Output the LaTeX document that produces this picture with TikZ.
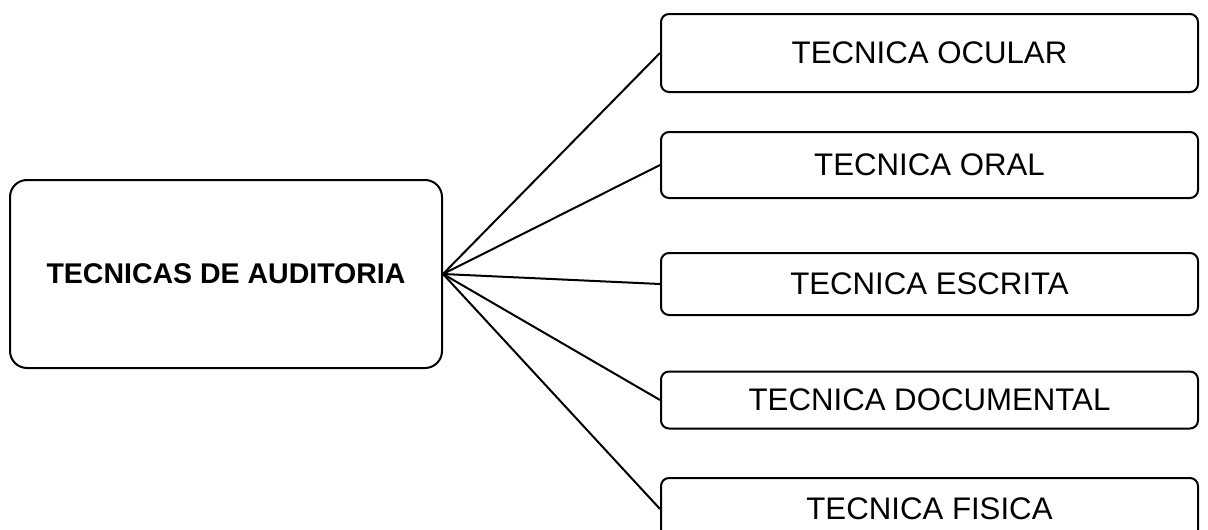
\documentclass[tikz,border=0pt]{standalone}
\usepackage{fontspec}
\setmainfont{Liberation Sans}
\usepackage{tikz}
\usetikzlibrary{positioning}

\begin{document}
\begin{tikzpicture}[x=1pt, y=-1pt, line width=2pt,
    every node/.style={font=\fontsize{31.2}{37}\selectfont},
    tecbox/.style={draw, rounded corners=8pt, minimum width=537pt, inner sep=0pt},
    mainbox/.style={draw, rounded corners=17pt, minimum width=432pt, minimum height=188pt,
        inner sep=0pt, font=\fontsize{28.5}{34}\selectfont\bfseries}]
    \useasboundingbox (0,0) rectangle (1208,530);
    \node[mainbox] (M) at (226,274) {TECNICAS DE AUDITORIA};
    \node[tecbox,minimum height=78pt] (1) at (929.5,53) {TECNICA OCULAR};
    \node[tecbox,minimum height=66pt] (2) at (929.5,165) {TECNICA ORAL};
    \node[tecbox,minimum height=62pt] (3) at (929.5,284) {TECNICA ESCRITA};
    \node[tecbox,minimum height=57pt] (4) at (929.5,400) {TECNICA DOCUMENTAL};
    \node[tecbox,minimum height=62pt] (5) at (929.5,509) {TECNICA FISICA};
    \foreach \i in {1,...,5}
        \draw (M.east) -- (\i.west);
\end{tikzpicture}
\end{document}
